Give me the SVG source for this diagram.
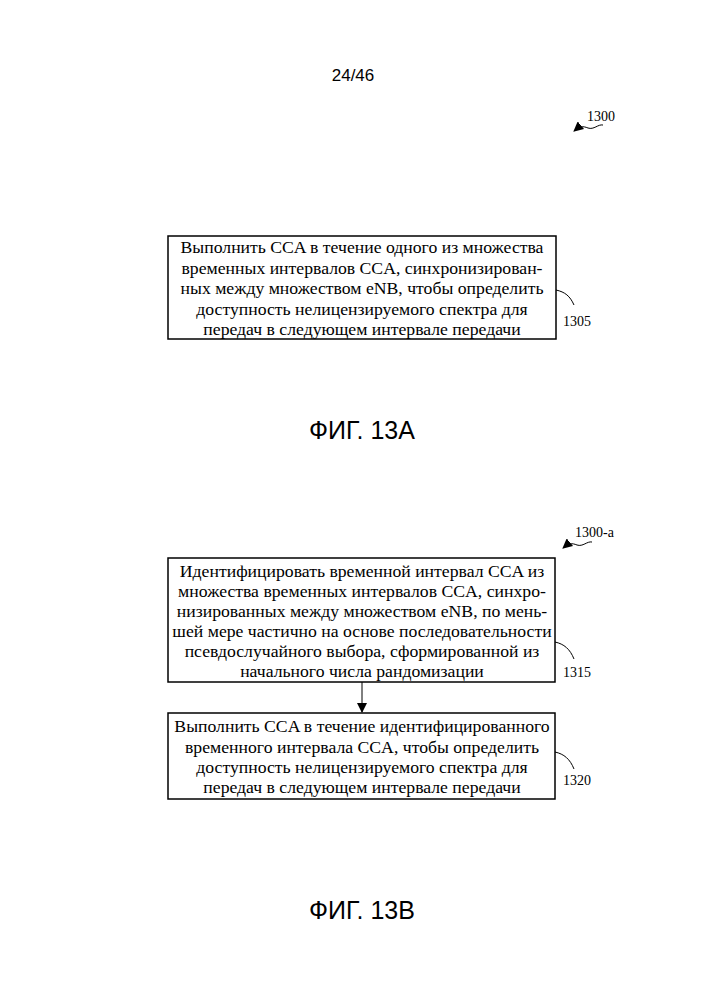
<svg xmlns="http://www.w3.org/2000/svg" width="707" height="1000" viewBox="0 0 707 1000">
<style>
.t{font-family:"Liberation Serif",serif;font-size:17.7px;text-anchor:middle;fill:#000}
.l{font-family:"Liberation Serif",serif;font-size:14px;fill:#000}
.s{font-family:"Liberation Sans",Arial,sans-serif;text-anchor:middle;fill:#000}
.b{fill:#fff;stroke:#000;stroke-width:1.5}
.c{fill:none;stroke:#000;stroke-width:1}
</style>
<defs><marker id="a" markerWidth="10" markerHeight="10" refX="9" refY="5" orient="auto" markerUnits="userSpaceOnUse"><path d="M0,0L10,5L0,10z"/></marker></defs>
<text class="s" x="353" y="81" font-size="17">24/46</text>
<text class="l" x="587" y="121">1300</text>
<path class="c" d="M603,125 C598,124 594,130 588,128 C583,126 580,126 574,131" marker-end="url(#a)"/>
<g id="n1305">
<rect class="b" x="168" y="236" width="388" height="103"/>
<text class="t" x="362" y="253">Выполнить CCA в течение одного из множества</text>
<text class="t" x="362" y="274">временных интервалов CCA, синхронизирован-</text>
<text class="t" x="362" y="294">ных между множеством eNB, чтобы определить</text>
<text class="t" x="362" y="315">доступность нелицензируемого спектра для</text>
<text class="t" x="362" y="335">передач в следующем интервале передачи</text>
<path class="c" d="M556,290 C565,292 570,296 574,305"/>
<text class="l" x="563" y="326">1305</text>
</g>
<text class="s" x="362" y="439" font-size="25">ФИГ. 13А</text>
<text class="l" x="575" y="537">1300-а</text>
<path class="c" d="M592,542 C587,541 583,547 577,545 C572,543 569,543 563,548" marker-end="url(#a)"/>
<g id="n1315">
<rect class="b" x="168" y="558" width="387" height="124"/>
<text class="t" x="362" y="577">Идентифицировать временной интервал CCA из</text>
<text class="t" x="362" y="597">множества временных интервалов CCA, синхро-</text>
<text class="t" x="362" y="617">низированных между множеством eNB, по мень-</text>
<text class="t" x="362" y="637">шей мере частично на основе последовательности</text>
<text class="t" x="362" y="657">псевдослучайного выбора, сформированной из</text>
<text class="t" x="362" y="677">начального числа рандомизации</text>
<path class="c" d="M555,642 C564,644 570,649 574,659"/>
<text class="l" x="563" y="677">1315</text>
</g>
<g id="n1320">
<rect class="b" x="168" y="713" width="387" height="86"/>
<text class="t" x="362" y="732">Выполнить CCA в течение идентифицированного</text>
<text class="t" x="362" y="753">временного интервала CCA, чтобы определить</text>
<text class="t" x="362" y="773">доступность нелицензируемого спектра для</text>
<text class="t" x="362" y="793">передач в следующем интервале передачи</text>
<path class="c" d="M555,752 C564,754 570,759 574,769"/>
<text class="l" x="563" y="785">1320</text>
</g>
<g id="connectors">
<line class="c" x1="362" y1="682" x2="362" y2="712" marker-end="url(#a)"/>
</g>
<text class="s" x="362" y="919" font-size="25">ФИГ. 13В</text>
</svg>
